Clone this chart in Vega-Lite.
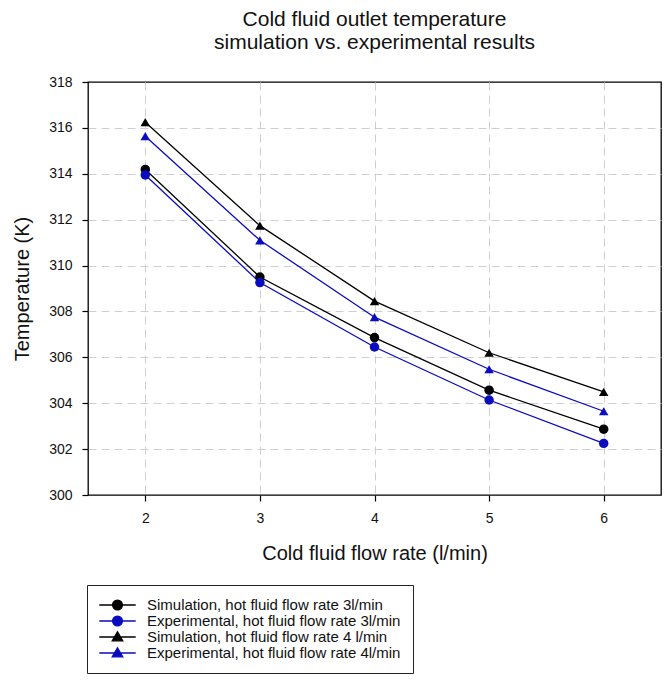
{
  "$schema": "https://vega.github.io/schema/vega-lite/v6.json",
  "autosize": {"type": "none"},
  "padding": {"left": 88, "top": 82, "right": 11, "bottom": 191},
  "width": 573,
  "height": 413,
  "title": {
    "text": ["Cold fluid outlet temperature", "simulation vs. experimental results"],
    "anchor": "middle",
    "font": "Liberation Sans",
    "fontSize": 21,
    "fontWeight": "normal",
    "lineHeight": 23,
    "color": "#111",
    "offset": 22
  },
  "config": {
    "font": "Liberation Sans",
    "view": {"stroke": "#000", "strokeWidth": 1.3},
    "axis": {
      "domain": false,
      "grid": true,
      "gridColor": "#cfcfcf",
      "gridDash": [8, 5],
      "gridWidth": 1,
      "ticks": true,
      "tickColor": "#000",
      "tickSize": 6,
      "tickWidth": 1.2,
      "labelFont": "Liberation Sans",
      "labelFontSize": 14,
      "labelColor": "#111",
      "titleFont": "Liberation Sans",
      "titleFontSize": 20,
      "titleFontWeight": "normal",
      "titleColor": "#111"
    }
  },
  "data": {
    "values": [
      {"flow": 2, "temp": 314.19, "hot": 3, "series": "Simulation, hot fluid flow rate 3l/min"},
      {"flow": 3, "temp": 309.50, "hot": 3, "series": "Simulation, hot fluid flow rate 3l/min"},
      {"flow": 4, "temp": 306.86, "hot": 3, "series": "Simulation, hot fluid flow rate 3l/min"},
      {"flow": 5, "temp": 304.57, "hot": 3, "series": "Simulation, hot fluid flow rate 3l/min"},
      {"flow": 6, "temp": 302.87, "hot": 3, "series": "Simulation, hot fluid flow rate 3l/min"},
      {"flow": 2, "temp": 313.95, "hot": 3, "series": "Experimental, hot fluid flow rate 3l/min"},
      {"flow": 3, "temp": 309.26, "hot": 3, "series": "Experimental, hot fluid flow rate 3l/min"},
      {"flow": 4, "temp": 306.45, "hot": 3, "series": "Experimental, hot fluid flow rate 3l/min"},
      {"flow": 5, "temp": 304.14, "hot": 3, "series": "Experimental, hot fluid flow rate 3l/min"},
      {"flow": 6, "temp": 302.25, "hot": 3, "series": "Experimental, hot fluid flow rate 3l/min"},
      {"flow": 2, "temp": 316.25, "hot": 4, "series": "Simulation, hot fluid flow rate 4 l/min"},
      {"flow": 3, "temp": 311.74, "hot": 4, "series": "Simulation, hot fluid flow rate 4 l/min"},
      {"flow": 4, "temp": 308.45, "hot": 4, "series": "Simulation, hot fluid flow rate 4 l/min"},
      {"flow": 5, "temp": 306.20, "hot": 4, "series": "Simulation, hot fluid flow rate 4 l/min"},
      {"flow": 6, "temp": 304.49, "hot": 4, "series": "Simulation, hot fluid flow rate 4 l/min"},
      {"flow": 2, "temp": 315.64, "hot": 4, "series": "Experimental, hot fluid flow rate 4l/min"},
      {"flow": 3, "temp": 311.10, "hot": 4, "series": "Experimental, hot fluid flow rate 4l/min"},
      {"flow": 4, "temp": 307.75, "hot": 4, "series": "Experimental, hot fluid flow rate 4l/min"},
      {"flow": 5, "temp": 305.48, "hot": 4, "series": "Experimental, hot fluid flow rate 4l/min"},
      {"flow": 6, "temp": 303.65, "hot": 4, "series": "Experimental, hot fluid flow rate 4l/min"}
    ]
  },
  "encoding": {
    "x": {
      "field": "flow",
      "type": "quantitative",
      "title": "Cold fluid flow rate (l/min)",
      "scale": {"domain": [1.5, 6.5], "nice": false, "zero": false},
      "axis": {"values": [2, 3, 4, 5, 6], "labelPadding": 10, "titlePadding": 18}
    },
    "y": {
      "field": "temp",
      "type": "quantitative",
      "title": "Temperature (K)",
      "scale": {"domain": [300, 318], "nice": false, "zero": false},
      "axis": {
        "values": [300, 302, 304, 306, 308, 310, 312, 314, 316, 318],
        "labelPadding": 10,
        "titlePadding": 16,
        "gridOpacity": {"condition": {"test": "datum.value == 300 || datum.value == 318", "value": 0}, "value": 1}
      }
    },
    "color": {
      "field": "series",
      "type": "nominal",
      "sort": null,
      "scale": {
        "domain": [
          "Simulation, hot fluid flow rate 3l/min",
          "Experimental, hot fluid flow rate 3l/min",
          "Simulation, hot fluid flow rate 4 l/min",
          "Experimental, hot fluid flow rate 4l/min"
        ],
        "range": ["#000000", "#0b0bbf", "#000000", "#0b0bbf"]
      },
      "legend": {
        "title": null,
        "orient": "none",
        "legendX": -1,
        "legendY": 503,
        "direction": "vertical",
        "padding": 12,
        "strokeColor": "#222",
        "fillColor": "#ffffff",
        "labelFont": "Liberation Sans",
        "labelFontSize": 15,
        "labelColor": "#111",
        "labelLimit": 400,
        "labelOffset": 32,
        "symbolSize": 196,
        "rowPadding": 0,
        "encode": {
          "symbols": {
            "update": {
              "shape": {"signal": "indexof(datum.value, '4') >= 0 ? 'M-1.1,0H4.1M1.5,-0.75L2.25,0.55L0.75,0.55Z' : 'M-1.1,0H4.1M0.8,0A0.7,0.7,0,1,1,2.2,0A0.7,0.7,0,1,1,0.8,0Z'"},
              "fill": {"signal": "scale('color', datum.value)"},
              "stroke": {"signal": "scale('color', datum.value)"},
              "strokeWidth": {"value": 1.3},
              "opacity": {"value": 1}
            }
          }
        }
      }
    }
  },
  "layer": [
    {
      "mark": {"type": "line", "strokeWidth": 1.3},
      "encoding": {"detail": {"field": "series"}}
    },
    {
      "mark": {"type": "point", "filled": true, "opacity": 1, "size": 90},
      "encoding": {
        "shape": {
          "field": "hot",
          "type": "nominal",
          "scale": {"domain": [3, 4], "range": ["circle", "triangle-up"]},
          "legend": null
        }
      }
    }
  ]
}
